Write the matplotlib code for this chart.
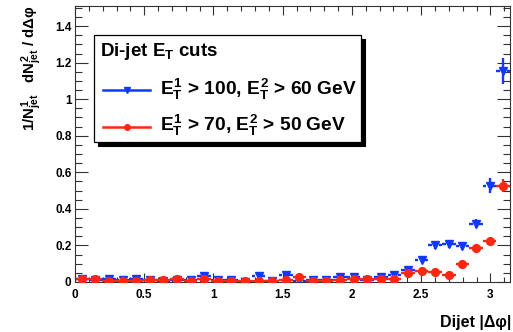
"""Dijet azimuthal decorrelation for two E_T cut selections."""

import matplotlib

matplotlib.use("Agg")
import matplotlib.pyplot as plt
import numpy as np
from matplotlib.lines import Line2D
from matplotlib.patches import Rectangle
from matplotlib.ticker import FuncFormatter, MultipleLocator

# histogram binning: 32 bins over [0, pi]
N_BINS = 32
BIN_EDGES = np.linspace(0.0, np.pi, N_BINS + 1)

# E_T^1 > 100, E_T^2 > 60 GeV
blue_values = [
    0.018, 0.012, 0.016, 0.010, 0.015, 0.012, 0.003, 0.012,
    0.010, 0.032, 0.010, 0.012, 0.002, 0.033, 0.008, 0.036,
    0.004, 0.012, 0.010, 0.026, 0.030, 0.011, 0.029, 0.038,
    0.066, 0.120, 0.202, 0.208, 0.197, 0.320, 0.527, 1.155,
]
blue_errors = [
    0.008, 0.008, 0.008, 0.008, 0.008, 0.008, 0.008, 0.008,
    0.008, 0.009, 0.008, 0.008, 0.008, 0.009, 0.008, 0.009,
    0.008, 0.008, 0.008, 0.009, 0.009, 0.008, 0.009, 0.010,
    0.012, 0.016, 0.020, 0.020, 0.020, 0.026, 0.040, 0.070,
]

# E_T^1 > 70, E_T^2 > 50 GeV
red_values = [
    0.016, 0.015, 0.005, 0.006, 0.004, 0.011, 0.011, 0.015,
    0.005, 0.017, 0.004, 0.004, 0.008, 0.007, 0.003, 0.011,
    0.028, 0.004, 0.006, 0.010, 0.018, 0.016, 0.018, 0.018,
    0.047, 0.062, 0.056, 0.038, 0.098, 0.184, 0.226, 0.527,
]
red_errors = [
    0.005, 0.005, 0.005, 0.005, 0.005, 0.005, 0.005, 0.005,
    0.005, 0.005, 0.005, 0.005, 0.005, 0.005, 0.005, 0.005,
    0.006, 0.005, 0.005, 0.005, 0.005, 0.005, 0.005, 0.005,
    0.007, 0.008, 0.008, 0.007, 0.010, 0.014, 0.016, 0.035,
]

legend_title = r"Di-jet $E_{T}$ cuts"
legend_labels = [
    r"$E^{1}_{T}$ > 100, $E^{2}_{T}$ > 60 GeV",
    r"$E^{1}_{T}$ > 70, $E^{2}_{T}$ > 50 GeV",
]

BLUE = "#1238ff"
RED = "#ff2612"
W, H = 513, 332


def px(x, y):
    """pixel position (from top-left) -> figure fraction."""
    return x / W, 1 - y / H


def draw_points(ax, values, errors, color, marker, size):
    centers = 0.5 * (BIN_EDGES[:-1] + BIN_EDGES[1:])
    half = 0.5 * (BIN_EDGES[1] - BIN_EDGES[0])
    values = np.asarray(values)
    errors = np.asarray(errors)
    gap_x, gap_y = 0.024, 0.018
    ax.hlines(values, centers - half, centers - gap_x, color=color, lw=1.7, clip_on=False)
    ax.hlines(values, centers + gap_x, centers + half, color=color, lw=1.7, clip_on=False)
    big = errors > gap_y
    ax.vlines(centers[big], values[big] + gap_y, values[big] + errors[big], color=color, lw=1.7)
    ax.vlines(centers[big], values[big] - errors[big], values[big] - gap_y, color=color, lw=1.7)
    ax.plot(centers, values, ls="none", marker=marker, ms=size, color=color, mec=color, zorder=5)


def main():
    plt.rcParams["font.family"] = ["Liberation Sans", "DejaVu Sans"]
    plt.rcParams["font.weight"] = "bold"
    plt.rcParams["mathtext.fontset"] = "custom"
    for key in ("rm", "it", "bf", "sf"):
        plt.rcParams[f"mathtext.{key}"] = "Liberation Sans:bold"

    fig = plt.figure(figsize=(W / 100, H / 100), dpi=100, facecolor="white")
    ax = fig.add_axes([75 / W, 1 - 282 / H, (510 - 75) / W, (282 - 6) / H])

    draw_points(ax, blue_values, blue_errors, BLUE, "v", 5.5)
    draw_points(ax, red_values, red_errors, RED, "o", 5.6)

    ax.set_xlim(0, np.pi)
    ax.set_ylim(0, 1.51)
    ax.xaxis.set_major_locator(MultipleLocator(0.5))
    ax.xaxis.set_minor_locator(MultipleLocator(0.1))
    ax.yaxis.set_major_locator(MultipleLocator(0.2))
    ax.yaxis.set_minor_locator(MultipleLocator(0.05))
    fmt = FuncFormatter(lambda v, _: f"{v:g}")
    ax.xaxis.set_major_formatter(fmt)
    ax.yaxis.set_major_formatter(fmt)
    ax.tick_params(which="both", direction="in", top=True, right=True, width=0.8,
                   labelsize=8.5, color="#333333")
    ax.tick_params(axis="x", which="major", length=6.5, pad=5)
    ax.tick_params(axis="x", which="minor", length=3.3)
    ax.tick_params(axis="y", which="major", length=9.2, pad=2.5)
    ax.tick_params(axis="y", which="minor", length=4.7)
    for spine in ax.spines.values():
        spine.set_linewidth(0.8)
        spine.set_color("#333333")

    fig.text(*px(511, 327), "Dijet |Δφ|", ha="right", va="baseline", fontsize=11.5)
    fig.text(*px(35, 5), r"$1/N^{1}_{jet}$   $dN^{2}_{jet}$ / $d$Δφ", rotation=90,
             rotation_mode="anchor", ha="right", va="baseline", fontsize=10.8)

    # legend box with ROOT style shadow
    x0, y0 = px(94, 142)
    x1, y1 = px(361, 35)
    sx, sy = 4 / W, 4 / H
    fig.add_artist(Rectangle((x0 + sx, y0 - sy), x1 - x0, y1 - y0, transform=fig.transFigure,
                             facecolor="black", edgecolor="black", lw=0.8, zorder=9))
    fig.add_artist(Rectangle((x0, y0), x1 - x0, y1 - y0, transform=fig.transFigure,
                             facecolor="white", edgecolor="black", lw=0.9, zorder=10))
    fig.text(*px(100, 56), legend_title, ha="left", va="baseline", fontsize=13.5, zorder=11)
    for label, color, marker, y_line, y_text in [
        (legend_labels[0], BLUE, "v", 90, 95.5),
        (legend_labels[1], RED, "o", 127, 131),
    ]:
        lx0, ly = px(103, y_line)
        lx1, _ = px(150, y_line)
        fig.add_artist(Line2D([lx0, lx1], [ly, ly], transform=fig.transFigure, color=color,
                              lw=1.8, zorder=11))
        fig.add_artist(Line2D([(lx0 + lx1) / 2], [ly], transform=fig.transFigure, color=color,
                              marker=marker, ms=4, zorder=12))
        fig.text(*px(160, y_text), label, ha="left", va="baseline", fontsize=13.8, zorder=11)

    fig.savefig("out.png", dpi=100, facecolor="white")
    plt.close(fig)


if __name__ == "__main__":
    main()
